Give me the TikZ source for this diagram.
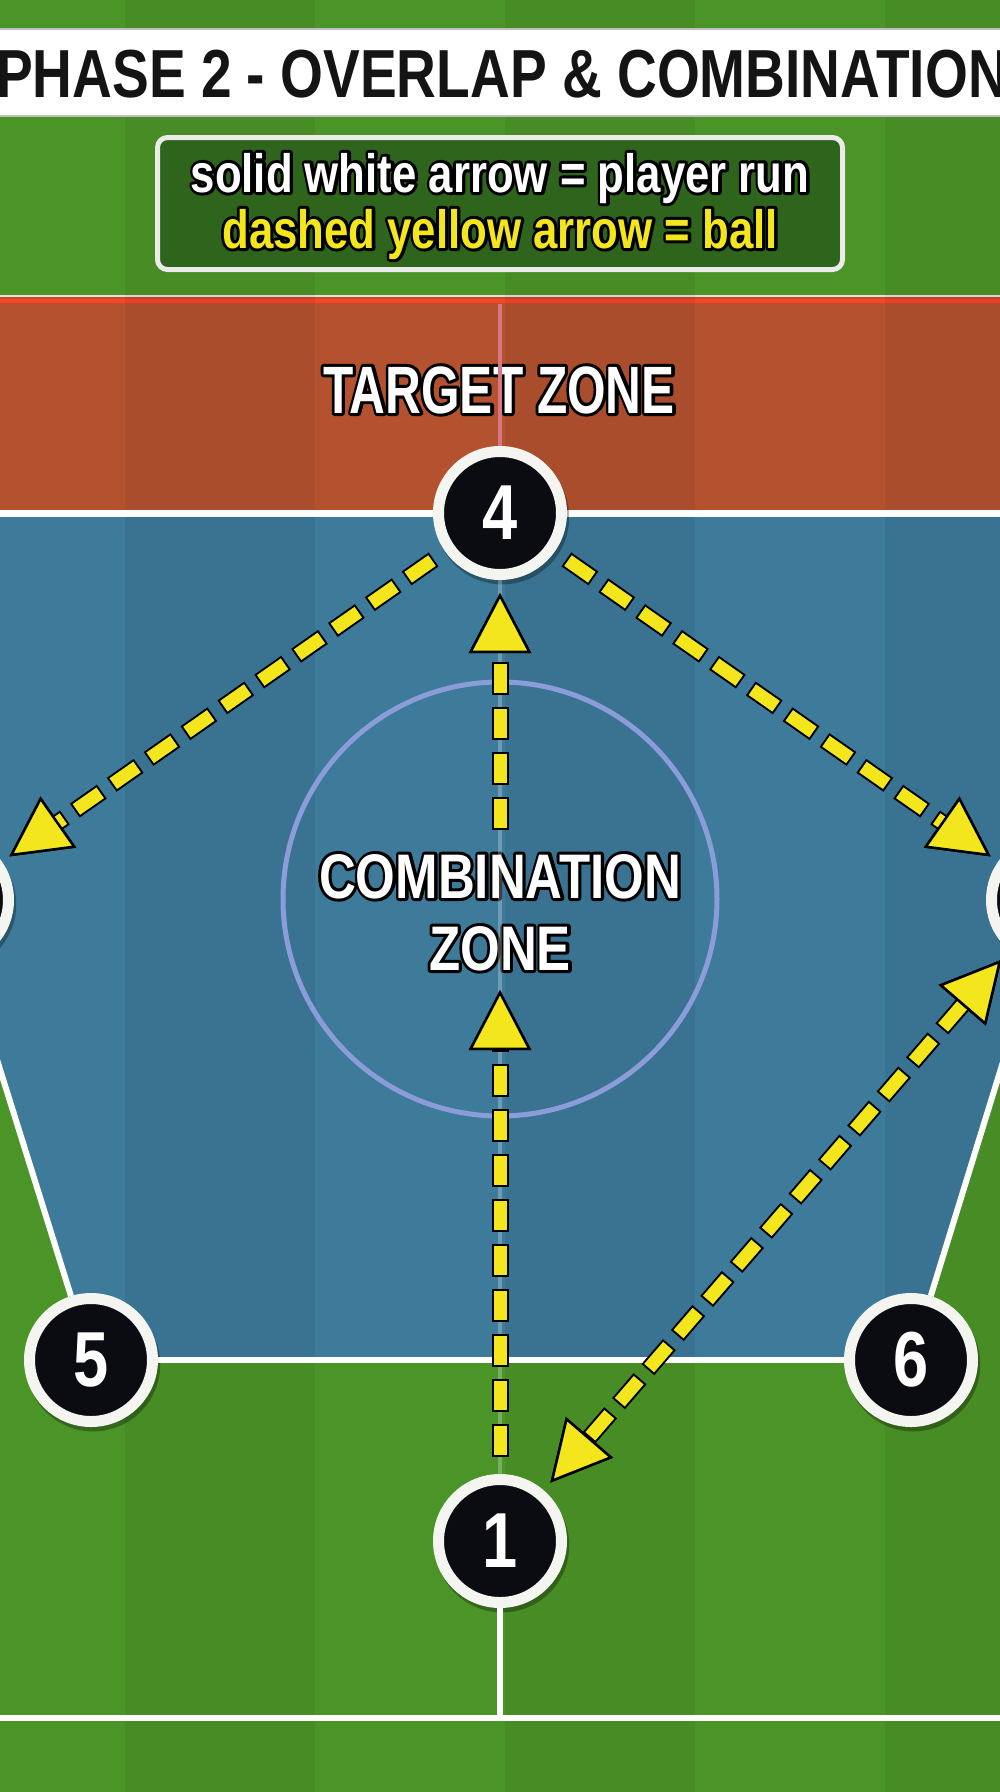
\documentclass[tikz,border=0pt]{standalone}
\usepackage{fontspec}
\setmainfont{Liberation Sans}
\newfontfamily\condfont{Liberation Sans}[FakeStretch=0.81]
\newfontfamily\tightfont{Liberation Sans}[FakeStretch=0.74]
\usetikzlibrary{arrows.meta,shadows}

% black rim behind a text: one stroked copy, then the text itself
\newcommand\outlined[1]{\leavevmode\rlap{\color{black}\special{pdf:literal direct 2 Tr 6 w 1 j}#1\special{pdf:literal direct 0 Tr}}#1}

\definecolor{grass}{HTML}{4B9427}
\definecolor{targetred}{HTML}{B4522F}
\definecolor{combiblue}{HTML}{3E7A9A}
\definecolor{ringblue}{HTML}{8B9DD8}
\definecolor{pinkline}{HTML}{D87683}
\definecolor{ballyellow}{HTML}{F4E61C}
\definecolor{legendgreen}{HTML}{2E641B}
\definecolor{nodeblack}{HTML}{0B0B12}
\definecolor{ringwhite}{HTML}{F4F4F0}

\tikzset{
  player/.style={shape=circle,fill=nodeblack,draw=ringwhite,line width=11pt,minimum size=123pt,inner sep=0pt,
    text=white,font=\condfont\bfseries\fontsize{78}{78}\selectfont,
    general shadow={fill=black,opacity=.3,shadow scale=1.09,shadow xshift=2pt,shadow yshift=-4pt}},
  fieldline/.style={draw=white,line width=6pt},
  zonetext/.style={text=white,inner sep=0pt,anchor=base},
  ballcase/.style={draw=black,line width=17pt,dash pattern=on 33pt off 12pt,
    -{Triangle[length=60pt,width=62pt,line width=2.5pt,fill=black]}},
  ballink/.style={draw=ballyellow,line width=13pt,dash pattern=on 29pt off 16pt,dash phase=43pt,
    -{Triangle[length=60pt,width=62pt,line width=2.5pt,fill=ballyellow,color=black]}},
  ballcasetwo/.style={draw=black,line width=17pt,dash pattern=on 33pt off 12pt,
    {Triangle[length=60pt,width=62pt,line width=2.5pt,fill=black]}-{Triangle[length=60pt,width=62pt,line width=2.5pt,fill=black]}},
  ballinktwo/.style={draw=ballyellow,line width=13pt,dash pattern=on 29pt off 16pt,dash phase=43pt,
    {Triangle[length=60pt,width=62pt,line width=2.5pt,fill=ballyellow,color=black]}-{Triangle[length=60pt,width=62pt,line width=2.5pt,fill=ballyellow,color=black]}}
}

\begin{document}
\begin{tikzpicture}[x=1pt,y=-1pt]
\useasboundingbox (0,0) rectangle (1000,1792);
\clip (0,0) rectangle (1000,1792);

% pitch and zones
\fill[grass] (0,0) rectangle (1000,1792);
\fill[targetred] (0,296) rectangle (1000,513);
\draw[white!80!targetred,line width=2pt] (0,296) -- (1000,296);
\draw[red!75!orange!85!white,line width=4pt] (0,300.5) -- (1000,300.5);
\fill[combiblue] (-53,513) -- (1053,513) -- (1053,900) -- (911,1360) -- (91,1360) -- (-53,900) -- cycle;
\foreach \x in {125,505,885} \fill[black,opacity=.05] (\x,0) rectangle ++(190,1792);
\draw[ringblue,line width=5pt] (500,899) circle[radius=217];
\draw[fieldline,line width=7pt] (0,513) -- (1000,513);
\draw[fieldline] (0,1718) -- (1000,1718);

% title and key
\fill[white] (0,29) rectangle (1000,116);
\draw[black!25,line width=1.5pt] (0,29) -- (1000,29) (0,116) -- (1000,116);
\node[inner sep=0pt,anchor=base,text=black!92,font=\condfont\bfseries\fontsize{68}{68}\selectfont] (title) at (502,97) {PHASE 2 - OVERLAP \& COMBINATION};
\node[draw=black!8,line width=5pt,fill=legendgreen,rounded corners=10pt,minimum width=685pt,minimum height=132pt] (legend) at (500,203.5) {};
\node[zonetext,font=\condfont\bfseries\fontsize{54}{54}\selectfont] (runkey) at (500,192) {\outlined{solid white arrow = player run}};
\node[zonetext,text=ballyellow,font=\condfont\bfseries\fontsize{54}{54}\selectfont] (ballkey) at (500,248) {\outlined{dashed yellow arrow = ball}};

% zone labels
\node[zonetext,font=\tightfont\bfseries\fontsize{67}{67}\selectfont] (target) at (499,413) {\outlined{TARGET ZONE}};
\node[zonetext,font=\condfont\bfseries\fontsize{63}{63}\selectfont] (combi) at (500,898) {\outlined{COMBINATION}};
\node[zonetext,font=\condfont\bfseries\fontsize{63}{63}\selectfont] (combizone) at (500,970) {\outlined{ZONE}};

% players
\node[player] (4) at (500,513) {4};
\node[player] (2) at (-53,900) {};
\node[player] (3) at (1053,900) {};
\node[player] (5) at (91,1360) {5};
\node[player] (6) at (911,1360) {6};
\node[player] (1) at (500,1541) {1};

\coordinate (tztop) at (500,304);
\coordinate (goal) at (500,1718);
\coordinate (kick) at (500,990);
\coordinate (relay) at (500,830);

\path[fieldline] (2) edge (5) (3) edge (6) (5) edge (6) (1) edge (goal);
\draw[pinkline,line width=4pt] (tztop) -- (4);
\draw[white,opacity=.25,line width=4pt] (4) -- (1);

% ball passes
\path[shorten <=14pt,shorten >=9pt] (4) edge[ballcase] (2) edge[ballink] (2) edge[ballcase] (3) edge[ballink] (3);
\path[shorten <=17pt] (1) edge[ballcase] (kick) edge[ballink] (kick);
\path[shorten >=13pt] (relay) edge[ballcase] (4) edge[ballink] (4);
\path[shorten <=10pt,shorten >=12pt] (1) edge[ballcasetwo] (3) edge[ballinktwo] (3);
\end{tikzpicture}
\end{document}
